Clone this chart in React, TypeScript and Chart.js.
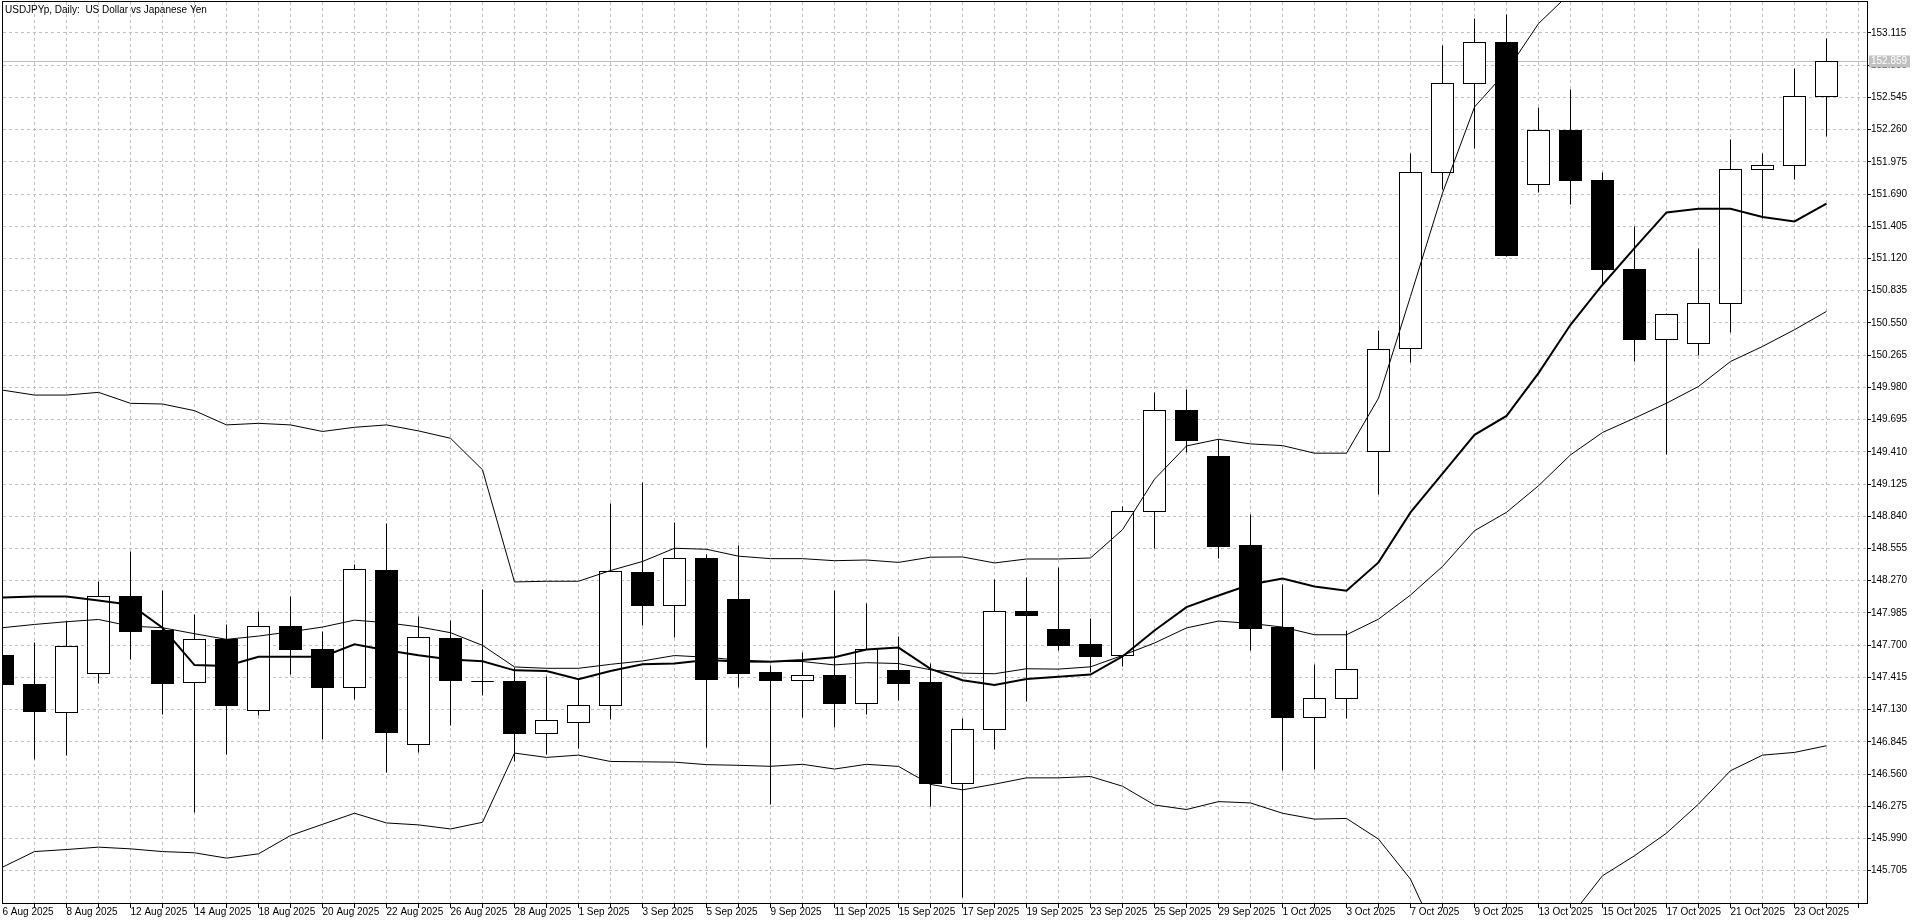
import React, { useEffect, useRef } from 'react';
import { Chart, ChartConfiguration, Plugin } from 'chart.js/auto';

// Barras diárias (uma por dia útil)
const dates = [
  '6 Aug 2025', '7 Aug 2025', '8 Aug 2025', '11 Aug 2025', '12 Aug 2025', '13 Aug 2025', '14 Aug 2025', '15 Aug 2025',
  '18 Aug 2025', '19 Aug 2025', '20 Aug 2025', '21 Aug 2025', '22 Aug 2025', '25 Aug 2025', '26 Aug 2025', '27 Aug 2025',
  '28 Aug 2025', '29 Aug 2025', '1 Sep 2025', '2 Sep 2025', '3 Sep 2025', '4 Sep 2025', '5 Sep 2025', '8 Sep 2025',
  '9 Sep 2025', '10 Sep 2025', '11 Sep 2025', '12 Sep 2025', '15 Sep 2025', '16 Sep 2025', '17 Sep 2025', '18 Sep 2025',
  '19 Sep 2025', '22 Sep 2025', '23 Sep 2025', '24 Sep 2025', '25 Sep 2025', '26 Sep 2025', '29 Sep 2025', '30 Sep 2025',
  '1 Oct 2025', '2 Oct 2025', '3 Oct 2025', '6 Oct 2025', '7 Oct 2025', '8 Oct 2025', '9 Oct 2025', '10 Oct 2025',
  '13 Oct 2025', '14 Oct 2025', '15 Oct 2025', '16 Oct 2025', '17 Oct 2025', '20 Oct 2025', '21 Oct 2025', '22 Oct 2025',
  '23 Oct 2025', '24 Oct 2025',
];

const opens = [
  147.61, 147.354, 147.104, 147.448, 148.127, 147.83, 147.368, 147.748, 147.121, 147.862,
  147.66, 147.324, 148.36, 146.821, 147.757, 147.38, 147.377, 146.918, 147.015, 147.163,
  148.34, 148.052, 148.465, 148.107, 147.455, 147.384, 147.435, 147.187, 147.48, 147.367,
  146.48, 146.957, 147.995, 147.839, 147.705, 147.605, 148.886, 149.777, 149.371, 148.58,
  147.854, 147.06, 147.229, 149.413, 150.327, 151.885, 152.664, 153.035, 151.779, 152.248,
  151.814, 151.026, 150.401, 150.366, 150.725, 151.906, 151.941, 152.549,
];
const highs = [
  147.8, 147.72, 147.907, 148.265, 148.524, 148.183, 147.971, 147.883, 147.995, 148.127,
  147.824, 148.412, 148.78, 147.951, 147.921, 148.192, 147.501, 147.421, 147.392, 148.951,
  149.139, 148.784, 148.505, 148.579, 147.516, 147.638, 148.187, 148.067, 147.775, 147.54,
  147.047, 148.28, 148.295, 148.386, 147.936, 148.927, 149.933, 149.965, 149.521, 148.854,
  148.236, 147.532, 147.827, 150.481, 152.047, 153.003, 153.239, 153.277, 152.457, 152.614,
  151.879, 151.404, 150.632, 151.212, 152.177, 152.047, 152.799, 153.065,
];
const lows = [
  147.25, 146.69, 146.72, 147.36, 147.574, 147.089, 146.216, 146.736, 147.074, 147.442,
  146.868, 147.215, 146.574, 146.751, 146.992, 147.251, 146.668, 146.736, 146.789, 147.039,
  147.87, 147.77, 146.796, 147.323, 146.291, 147.063, 146.97, 147.085, 147.214, 146.27,
  145.472, 146.774, 147.198, 147.654, 147.46, 147.515, 148.554, 149.407, 148.468, 147.654,
  146.589, 146.603, 147.052, 149.029, 150.2, 151.728, 152.094, 151.139, 151.708, 151.596,
  150.88, 150.209, 149.383, 150.259, 150.466, 151.478, 151.817, 152.2,
];
const closes = [
  147.35, 147.11, 147.686, 148.133, 147.824, 147.365, 147.748, 147.163, 147.862, 147.657,
  147.321, 148.365, 146.924, 147.765, 147.383, 147.375, 146.915, 147.033, 147.163, 148.348,
  148.055, 148.465, 147.394, 147.452, 147.384, 147.427, 147.185, 147.662, 147.36, 146.475,
  146.95, 147.995, 147.966, 147.7, 147.603, 148.886, 149.777, 149.51, 148.574, 147.845,
  147.06, 147.229, 147.485, 150.318, 151.885, 152.664, 153.035, 151.144, 152.248, 151.811,
  151.026, 150.407, 150.622, 150.725, 151.911, 151.947, 152.549, 152.859,
];

// Indicadores
const maLine = [
  148.121, 148.13, 148.13, 148.095, 148.057, 147.854, 147.524, 147.516, 147.598, 147.598,
  147.598, 147.707, 147.655, 147.61, 147.574, 147.557, 147.477, 147.471, 147.398, 147.471,
  147.53, 147.537, 147.568, 147.556, 147.553, 147.568, 147.593, 147.661, 147.678, 147.49,
  147.39, 147.347, 147.4, 147.42, 147.44, 147.6, 147.83, 148.036, 148.139, 148.236,
  148.29, 148.219, 148.181, 148.432, 148.874, 149.217, 149.56, 149.728, 150.106, 150.534,
  150.888, 151.212, 151.528, 151.56, 151.56, 151.487, 151.448, 151.605,
];
const bandMid = [
  147.854, 147.883, 147.907, 147.927, 147.868, 147.854, 147.801, 147.751, 147.78, 147.818,
  147.86, 147.921, 147.898, 147.862, 147.81, 147.698, 147.507, 147.495, 147.495, 147.53,
  147.56, 147.608, 147.593, 147.568, 147.556, 147.555, 147.525, 147.545, 147.537, 147.482,
  147.452, 147.447, 147.491, 147.488, 147.508, 147.609, 147.719, 147.852, 147.913, 147.892,
  147.86, 147.792, 147.792, 147.93, 148.143, 148.396, 148.712, 148.875, 149.11, 149.383,
  149.581, 149.708, 149.84, 149.988, 150.209, 150.342, 150.49, 150.652,
];
const bandUpper = [
  149.956, 149.912, 149.912, 149.936, 149.839, 149.833, 149.774, 149.648, 149.662, 149.648,
  149.59, 149.627, 149.648, 149.595, 149.53, 149.251, 148.259, 148.265, 148.265, 148.36,
  148.44, 148.557, 148.548, 148.487, 148.465, 148.465, 148.447, 148.453, 148.432, 148.478,
  148.48, 148.427, 148.462, 148.462, 148.471, 148.721, 149.168, 149.462, 149.521, 149.48,
  149.465, 149.398, 149.398, 149.885, 150.785, 151.699, 152.46, 152.776, 153.198, 153.47,
  153.7, 153.82, 153.86, 153.9, 153.95, 153.98, 154.05, 154.1,
];
const bandLower = [
  145.736, 145.874, 145.892, 145.913, 145.898, 145.874, 145.863, 145.816, 145.854, 146.016,
  146.115, 146.213, 146.127, 146.11, 146.074, 146.133, 146.745, 146.707, 146.727, 146.671,
  146.668, 146.665, 146.643, 146.637, 146.628, 146.646, 146.604, 146.646, 146.627, 146.468,
  146.42, 146.47, 146.526, 146.526, 146.538, 146.452, 146.286, 146.246, 146.316, 146.304,
  146.213, 146.161, 146.167, 145.984, 145.63, 145.02, 144.8, 144.75, 144.95, 145.3,
  145.66, 145.837, 146.037, 146.294, 146.589, 146.727, 146.751, 146.81,
];

const priceTicks = [
  145.705, 145.99, 146.275, 146.56, 146.845, 147.13, 147.415, 147.7, 147.985, 148.27,
  148.555, 148.84, 149.125, 149.41, 149.695, 149.98, 150.265, 150.55, 150.835, 151.12,
  151.405, 151.69, 151.975, 152.26, 152.545, 152.83, 153.115,
];
const lastPrice = 152.859;
const chartTitle = 'USDJPYp, Daily:  US Dollar vs Japanese Yen';

const FONT_FAMILY = '"Liberation Sans", Arial, sans-serif';
const GRID = '#c0c0c0';

// alinhar linhas de 1px no pixel
const align = (p: number) => Math.round(p - 0.5) + 0.5;

const candlePlugin: Plugin<'line'> = {
  id: 'candles',
  beforeDatasetsDraw(chart) {
    const { ctx, chartArea: a } = chart;
    const x = chart.scales.x;
    const y = chart.scales.y;
    ctx.save();
    ctx.beginPath();
    ctx.rect(a.left, a.top, a.right - a.left, a.bottom - a.top);
    ctx.clip();

    // linha do preço atual
    const py = align(y.getPixelForValue(lastPrice));
    ctx.strokeStyle = GRID;
    ctx.lineWidth = 1;
    ctx.beginPath();
    ctx.moveTo(a.left, py);
    ctx.lineTo(a.right, py);
    ctx.stroke();

    const step = x.getPixelForValue(1) - x.getPixelForValue(0);
    const hw = Math.round(step * 0.34);
    ctx.strokeStyle = '#000';
    for (let i = 0; i < opens.length; i++) {
      const cx = align(x.getPixelForValue(i));
      const yh = align(y.getPixelForValue(highs[i]));
      const yl = align(y.getPixelForValue(lows[i]));
      const yTop = align(y.getPixelForValue(Math.max(opens[i], closes[i])));
      const yBot = align(y.getPixelForValue(Math.min(opens[i], closes[i])));
      ctx.beginPath();
      ctx.moveTo(cx, yh);
      ctx.lineTo(cx, yl);
      ctx.stroke();
      ctx.fillStyle = closes[i] >= opens[i] ? '#fff' : '#000';
      ctx.fillRect(cx - hw, yTop, hw * 2, yBot - yTop);
      ctx.strokeRect(cx - hw, yTop, hw * 2, yBot - yTop);
    }
    ctx.restore();
  },
  afterDraw(chart) {
    const { ctx, chartArea: a } = chart;
    const x = chart.scales.x;
    const y = chart.scales.y;
    ctx.save();
    ctx.strokeStyle = '#000';
    ctx.lineWidth = 1;
    ctx.strokeRect(a.left - 0.5, a.top - 0.5, a.right - a.left + 1, a.bottom - a.top + 1);

    ctx.beginPath();
    y.ticks.forEach((t) => {
      const ty = align(y.getPixelForValue(t.value));
      ctx.moveTo(a.right, ty);
      ctx.lineTo(a.right + 4, ty);
    });
    x.ticks.forEach((t) => {
      const tx = align(x.getPixelForValue(t.value));
      if (tx < a.left) return;
      ctx.moveTo(tx, a.bottom);
      ctx.lineTo(tx, a.bottom + 5);
    });
    ctx.stroke();

    ctx.font = `10px ${FONT_FAMILY}`;
    ctx.fillStyle = '#000';
    ctx.textAlign = 'left';
    ctx.textBaseline = 'alphabetic';
    ctx.fillText(chartTitle, 5, 13);

    // etiqueta do preço atual
    const py = align(y.getPixelForValue(lastPrice));
    ctx.fillStyle = GRID;
    ctx.fillRect(a.right + 2, py - 6, 41, 12);
    ctx.fillStyle = '#fff';
    ctx.textBaseline = 'middle';
    ctx.fillText(lastPrice.toFixed(3), a.right + 4, py);
    ctx.restore();
  },
};

const lineSet = (values: number[], width: number, label: string) => ({
  label,
  data: values.map((v, i) => ({ x: i, y: v })),
  borderColor: '#000',
  backgroundColor: '#000',
  borderWidth: width,
  pointRadius: 0,
  tension: 0,
  fill: false,
});

export default function App() {
  const chartRef = useRef<HTMLCanvasElement>(null);
  const chartInstance = useRef<Chart<'line'> | null>(null);

  useEffect(() => {
    if (!chartRef.current) return;
    document.body.style.margin = '0';
    document.body.style.overflow = 'hidden';

    if (chartInstance.current) {
      chartInstance.current.destroy();
    }

    const config: ChartConfiguration<'line'> = {
      type: 'line',
      data: {
        datasets: [
          lineSet(maLine, 2, 'MA'),
          lineSet(bandMid, 1, 'Bands middle'),
          lineSet(bandUpper, 1, 'Bands upper'),
          lineSet(bandLower, 1, 'Bands lower'),
        ] as any,
      },
      options: {
        responsive: true,
        maintainAspectRatio: false,
        animation: false,
        events: [],
        layout: { padding: { left: 3, top: 2, right: 0, bottom: 0 } },
        plugins: {
          legend: { display: false },
          tooltip: { enabled: false },
        },
        scales: {
          x: {
            type: 'linear',
            bounds: 'data',
            min: 0.015625,
            max: 58.265625,
            afterBuildTicks: (scale) => {
              scale.ticks = Array.from({ length: dates.length + 1 }, (_, i) => ({ value: i }));
            },
            afterFit: (scale) => {
              scale.height = 20;
              scale.paddingLeft = 0;
              scale.paddingRight = 0;
              scale.paddingTop = 0;
              scale.paddingBottom = 0;
            },
            grid: { color: GRID, drawTicks: false },
            border: { display: false, dash: [3, 3] },
            ticks: {
              autoSkip: false,
              maxRotation: 0,
              minRotation: 0,
              align: 'start',
              padding: 3,
              color: '#000',
              font: { family: FONT_FAMILY, size: 10 },
              callback: (value) => {
                const i = Number(value);
                return i % 2 === 0 && i < dates.length ? dates[i] : '';
              },
            },
          },
          y: {
            type: 'linear',
            position: 'right',
            bounds: 'data',
            min: 145.419,
            max: 153.389,
            afterBuildTicks: (scale) => {
              scale.ticks = priceTicks.map((v) => ({ value: v }));
            },
            afterFit: (scale) => {
              scale.width = 53;
              scale.paddingLeft = 0;
              scale.paddingRight = 0;
              scale.paddingTop = 0;
              scale.paddingBottom = 0;
            },
            grid: { color: GRID, drawTicks: false },
            border: { display: false, dash: [3, 3] },
            ticks: {
              autoSkip: false,
              padding: 4,
              color: '#000',
              font: { family: FONT_FAMILY, size: 10 },
              callback: (value) => Number(value).toFixed(3),
            },
          },
        },
      },
      plugins: [candlePlugin],
    };

    chartInstance.current = new Chart(chartRef.current, config);

    return () => {
      if (chartInstance.current) {
        chartInstance.current.destroy();
        chartInstance.current = null;
      }
    };
  }, []);

  return (
    <div style={{ position: 'relative', width: 1920, height: 923, background: '#fff' }}>
      <canvas ref={chartRef} />
    </div>
  );
}
